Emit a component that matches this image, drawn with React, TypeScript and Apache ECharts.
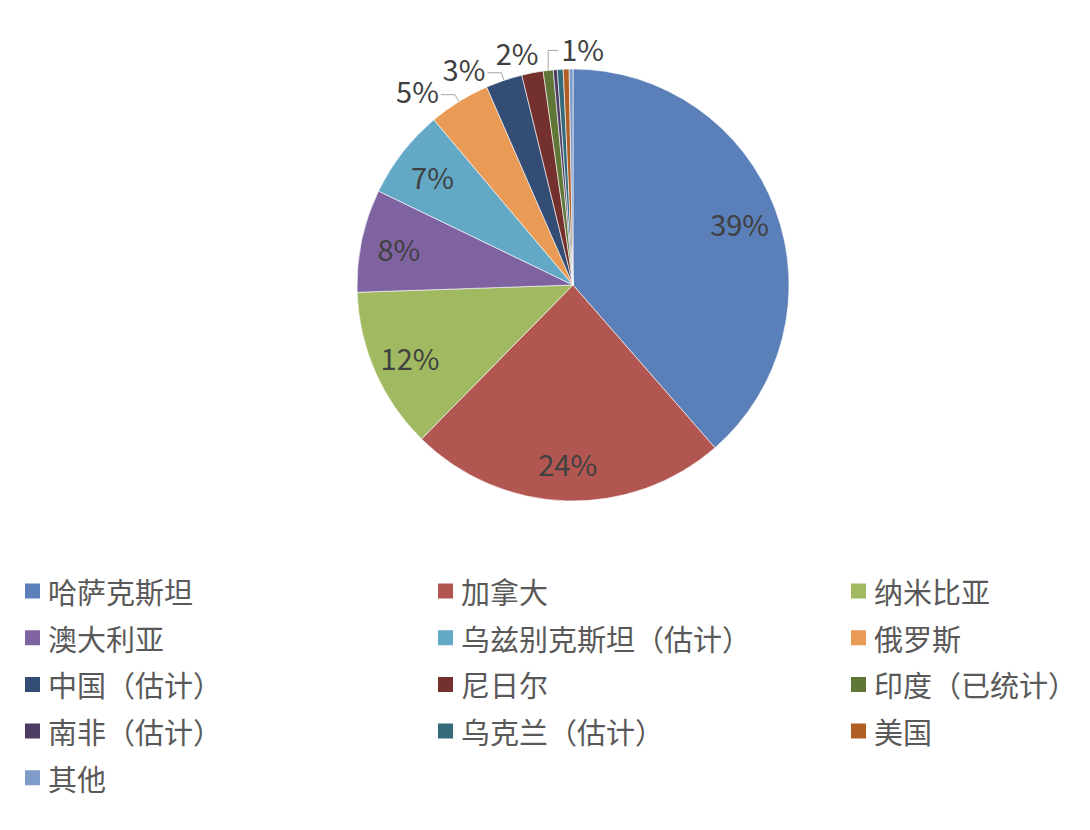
import { useEffect, useRef } from 'react'
import * as echarts from 'echarts'

const countries = [
  '哈萨克斯坦',
  '加拿大',
  '纳米比亚',
  '澳大利亚',
  '乌兹别克斯坦（估计）',
  '俄罗斯',
  '中国（估计）',
  '尼日尔',
  '印度（已统计）',
  '南非（估计）',
  '乌克兰（估计）',
  '美国',
  '其他',
]

const output = [23260, 14340, 7290, 4640, 4040, 2770, 1650, 965, 450, 180, 265, 265, 170]

const colors = [
  '#5B7FB9',
  '#B15651',
  '#A1BA62',
  '#7F63A1',
  '#63A9C6',
  '#E99A54',
  '#334D74',
  '#74302D',
  '#5F7636',
  '#4C3C63',
  '#356A7B',
  '#B05E24',
  '#7E9BCA',
]

const FONT = '"Noto Sans CJK SC", "Noto Sans", sans-serif'
const R = 216
const CX = 573
const CY = 285

export default function App() {
  const chartRef = useRef<HTMLDivElement>(null)

  useEffect(() => {
    if (!chartRef.current) return
    document.body.style.margin = '0'

    const chart = echarts.init(chartRef.current, undefined, { renderer: 'svg' })

    const total = output.reduce((a, b) => a + b, 0)
    const pct = (v: number) => Math.round((v / total) * 100)
    const share = output.map((v) => (v / total) * 100)

    // rim point and direction at the middle of each slice (clockwise from 12 o'clock)
    let acc = 0
    const rim = output.map((v) => {
      const mid = ((acc + v / 2) / total) * Math.PI * 2
      acc += v
      const sx = Math.sin(mid)
      const sy = -Math.cos(mid)
      return { x: CX + R * sx, y: CY + R * sy, sx, sy }
    })

    const NIGER = 7
    const INDIA = 8

    // big slices get the label inside, small ones outside, <0.5% none
    const mainData = countries.map((name, i) => {
      const outside = share[i] < 6 && pct(output[i]) > 0
      return {
        name,
        value: output[i],
        itemStyle: { color: colors[i] },
        label: { show: outside },
        labelLine: { show: outside && i !== NIGER },
      }
    })

    const innerData = countries.map((name, i) => ({
      name,
      value: output[i],
      label: { show: share[i] >= 6 },
    }))

    const labelText = {
      fontFamily: FONT,
      fontSize: 29,
      color: '#404040',
    }

    const legendCol = (left: number, names: string[]) => ({
      orient: 'vertical',
      left,
      top: 576,
      padding: 0,
      icon: 'rect',
      itemWidth: 17,
      itemHeight: 17,
      itemGap: 16.7,
      selectedMode: false,
      data: names,
      textStyle: {
        fontFamily: FONT,
        fontSize: 29,
        lineHeight: 30,
        color: '#595959',
        padding: [0, 0, 0, 2],
      },
    })

    chart.setOption({
      animation: false,
      backgroundColor: '#fff',
      legend: [
        legendCol(23, countries.filter((_, i) => i % 3 === 0)),
        legendCol(436, countries.filter((_, i) => i % 3 === 1)),
        legendCol(849, countries.filter((_, i) => i % 3 === 2)),
      ],
      series: [
        {
          type: 'pie',
          center: [CX, CY],
          radius: [0, R],
          startAngle: 90,
          clockwise: true,
          avoidLabelOverlap: false,
          itemStyle: { borderColor: '#fff', borderWidth: 0.6 },
          emphasis: { disabled: true },
          label: {
            ...labelText,
            position: 'outside',
            formatter: (p: any) => `${pct(p.value)}%`,
          },
          labelLine: {
            length: 8,
            length2: 12,
            lineStyle: { color: '#A6A6A6', width: 1 },
          },
          labelLayout: (p: any) => {
            const e = rim[p.dataIndex]
            if (p.dataIndex === NIGER) {
              return { x: e.x + 6, y: e.y - 21, align: 'right', verticalAlign: 'middle' }
            }
            if (p.dataIndex === INDIA) {
              return {
                x: e.x + 13,
                y: e.y - 22,
                align: 'left',
                verticalAlign: 'middle',
                labelLinePoints: [
                  [e.x, e.y],
                  [e.x, e.y - 20],
                  [e.x + 10, e.y - 20],
                ],
              }
            }
            // Excel style: short radial tick, horizontal run, text sits a bit above it
            const bx = e.x + e.sx * 8
            const by = e.y + e.sy * 8
            return {
              x: bx - 16,
              y: by - 5,
              align: 'right',
              verticalAlign: 'middle',
              labelLinePoints: [
                [e.x, e.y],
                [bx, by],
                [bx - 14, by],
              ],
            }
          },
          data: mainData,
        },
        {
          type: 'pie',
          center: [CX, CY],
          radius: [R * 0.62, R],
          startAngle: 90,
          clockwise: true,
          silent: true,
          itemStyle: { color: 'transparent' },
          emphasis: { disabled: true },
          label: {
            ...labelText,
            position: 'inside',
            formatter: (p: any) => `${pct(p.value)}%`,
          },
          labelLine: { show: false },
          data: innerData,
        },
      ],
    })

    return () => {
      chart.dispose()
    }
  }, [])

  return <div ref={chartRef} style={{ width: 1090, height: 830 }} />
}
